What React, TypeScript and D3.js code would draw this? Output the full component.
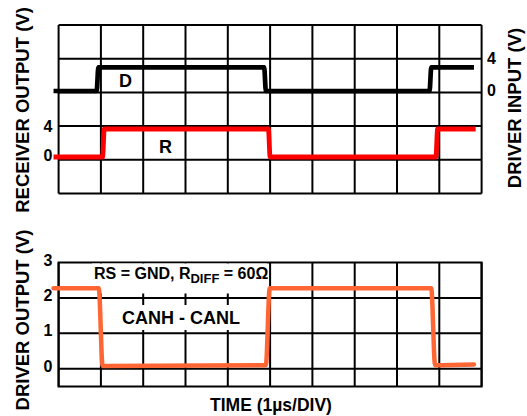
import React from 'react';
import * as d3 from 'd3';

const W = 527;
const H = 416;
const FONT = 'Liberation Sans, Arial, Helvetica, sans-serif';

// time axis: 10 divisions of 1 µs
const timeDivs = d3.range(0, 11);
const topRowLines = d3.range(0, 6);
const bottomGridVolts = [0, 1, 2];

// Driver input D (V) vs time (div)
const dTime = [-0.12, 0.9, 0.94, 4.86, 4.9, 8.77, 8.81, 9.82];
const dVolts = [0, 0, 3, 3, 0, 0, 3, 3];

// Receiver output R (V) vs time (div)
const rTime = [-0.12, 1.04, 1.08, 4.96, 5.0, 8.92, 8.96, 9.86];
const rVolts = [0, 0, 3.8, 3.8, 0, 0, 3.8, 3.8];

// Driver output CANH - CANL (V) vs time (div)
const cTime = [-0.12, 0.95, 1.04, 4.9, 4.99, 8.81, 8.9, 9.82];
const cVolts = [2.27, 2.27, 0.08, 0.1, 2.27, 2.27, 0.1, 0.12];

const leftTopTicks = [0, 4];
const rightTopTicks = [0, 4];
const bottomTicks = [0, 1, 2, 3];

export default function App() {
  const x = d3.scaleLinear().domain([0, 10]).range([58.6, 481.6]);
  const gridTop = d3.scaleLinear().domain([0, 5]).range([193.5, 25]);
  const yD = d3.scaleLinear().domain([0, 4]).range([91, 59.5]);
  const yR = d3.scaleLinear().domain([0, 4]).range([157, 127.5]);
  const yB = d3.scaleLinear().domain([-0.5, 3]).range([386.5, 262.5]);

  const mk = (ts: number[], vs: number[], ys: d3.ScaleLinear<number, number>) =>
    d3
      .line<number>()
      .x((_, i) => x(ts[i]))
      .y((_, i) => ys(vs[i]))
      .curve(d3.curveMonotoneX)(ts) || '';

  const dPath = mk(dTime, dVolts, yD);
  const rPath = mk(rTime, rVolts, yR);
  const cPath = mk(cTime, cVolts, yB);

  const textBold = { fontFamily: FONT, fontWeight: 'bold' as const, fill: '#000' };

  return (
    <svg
      width={W}
      height={H}
      style={{ position: 'absolute', left: 0, top: 0, background: '#fff' }}
    >
      <rect x={0} y={0} width={W} height={H} fill="#fff" />
      {/* Top panel grid */}
      <g stroke="#000" strokeWidth={2}>
        {timeDivs.map((t) => (
          <line key={'tv' + t} x1={x(t)} x2={x(t)} y1={gridTop(0)} y2={gridTop(5)} />
        ))}
        {topRowLines.map((r) => (
          <line key={'th' + r} x1={x(0)} x2={x(10)} y1={gridTop(r)} y2={gridTop(r)} />
        ))}
      </g>
      {/* Bottom panel grid */}
      <g stroke="#000" strokeWidth={2}>
        {timeDivs.map((t) => (
          <line key={'bv' + t} x1={x(t)} x2={x(t)} y1={yB(3)} y2={yB(-0.5)} />
        ))}
        {bottomGridVolts.map((v) => (
          <line key={'bh' + v} x1={x(0)} x2={x(10)} y1={yB(v)} y2={yB(v)} />
        ))}
        <rect x={x(0)} y={yB(3)} width={x(10) - x(0)} height={yB(-0.5) - yB(3)} fill="none" />
      </g>
      {/* white label backgrounds */}
      <rect x={92} y={yB(3) + 1} width={175} height={30} fill="#fff" />
      <rect x={115} y={305} width={130} height={25} fill="#fff" />

      {/* traces */}
      <path d={dPath} fill="none" stroke="#000" strokeWidth={4.7} strokeLinejoin="round" />
      <path d={rPath} fill="none" stroke="#ff0000" strokeWidth={4.8} strokeLinejoin="round" />
      <path d={cPath} fill="none" stroke="#ff6633" strokeWidth={4.5} strokeLinejoin="round" strokeLinecap="round" />

      {/* trace labels */}
      <text x={125.5} y={86.5} textAnchor="middle" fontSize={18} {...textBold}>D</text>
      <text x={165.5} y={153} textAnchor="middle" fontSize={18} {...textBold}>R</text>
      <text x={94} y={279} fontSize={16} {...textBold}>
        RS = GND, R
        <tspan fontSize={13} dy={3.5}>DIFF</tspan>
        <tspan dy={-3.5}> = 60Ω</tspan>
      </text>
      <text x={181} y={324} textAnchor="middle" fontSize={18} {...textBold}>CANH - CANL</text>

      {/* tick labels */}
      {leftTopTicks.map((v) => (
        <text key={'lt' + v} x={52.5} y={yR(v) + 4} textAnchor="end" fontSize={16} {...textBold}>
          {v}
        </text>
      ))}
      {rightTopTicks.map((v) => (
        <text key={'rt' + v} x={487} y={yD(v) + 4.5} textAnchor="start" fontSize={16} {...textBold}>
          {v}
        </text>
      ))}
      {bottomTicks.map((v) => (
        <text key={'bt' + v} x={52.5} y={yB(v) + 3} textAnchor="end" fontSize={16} {...textBold}>
          {v}
        </text>
      ))}

      {/* axis titles */}
      <text
        transform="translate(28.5,110) rotate(-90)"
        textAnchor="middle"
        fontSize={18.5}
        {...textBold}
      >
        RECEIVER OUTPUT (V)
      </text>
      <text
        transform="translate(28.5,320) rotate(-90)"
        textAnchor="middle"
        fontSize={18.5}
        {...textBold}
      >
        DRIVER OUTPUT (V)
      </text>
      <text
        transform="translate(521,108) rotate(-90)"
        textAnchor="middle"
        fontSize={18.5}
        {...textBold}
      >
        DRIVER INPUT (V)
      </text>
      <text x={271} y={411} textAnchor="middle" fontSize={17.5} {...textBold}>
        TIME (1µs/DIV)
      </text>
    </svg>
  );
}
